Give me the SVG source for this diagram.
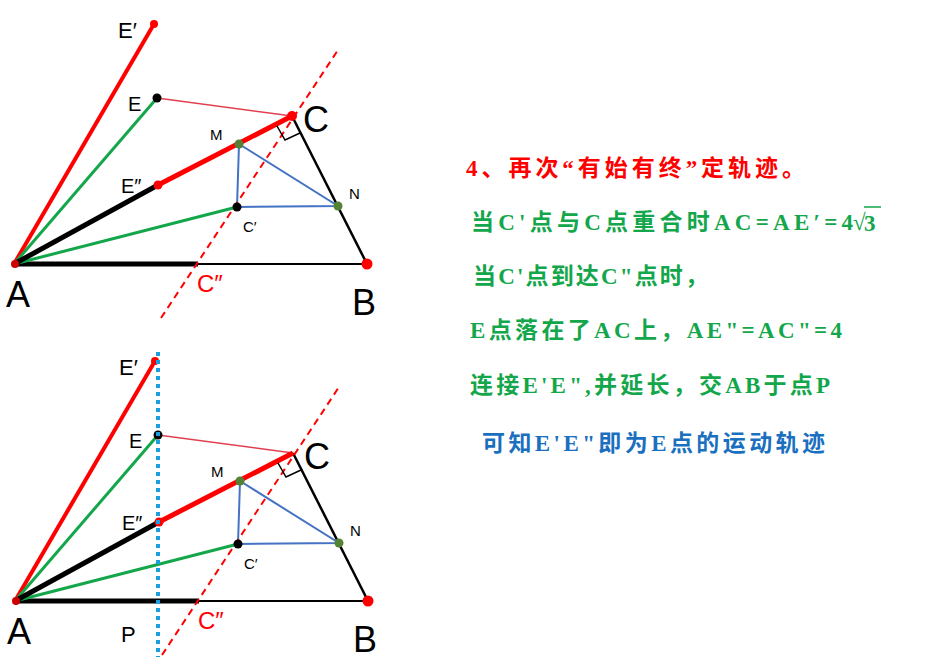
<svg xmlns="http://www.w3.org/2000/svg" width="952" height="665" viewBox="0 0 952 665">
<style>
.lbl{font-family:"Liberation Sans",Arial,sans-serif;fill:#000}
.t{font-family:"Liberation Serif","Noto Sans CJK SC",serif;font-size:23px;font-weight:bold}
.g{fill:#13a64a}
</style>
<defs>
<g id="fig">
<line x1="14" y1="264" x2="367" y2="264" stroke="#000" stroke-width="2"/>
<line x1="14" y1="264" x2="198" y2="264" stroke="#000" stroke-width="5"/>
<line x1="292" y1="116" x2="367" y2="264" stroke="#000" stroke-width="2.5"/>
<line x1="157" y1="98" x2="292" y2="116" stroke="#e04050" stroke-width="1.5"/>
<line x1="14" y1="264" x2="154" y2="24" stroke="#f00" stroke-width="4"/>
<line x1="14" y1="264" x2="157" y2="98" stroke="#13a64a" stroke-width="3"/>
<line x1="14" y1="264" x2="237" y2="207" stroke="#13a64a" stroke-width="3"/>
<line x1="14" y1="264" x2="158" y2="185" stroke="#000" stroke-width="5"/>
<line x1="158" y1="185" x2="292" y2="116" stroke="#f00" stroke-width="5"/>
<polyline points="239,144 237,207 338,206 239,144" fill="none" stroke="#4472c4" stroke-width="2"/>
<line x1="161" y1="318" x2="338" y2="50" stroke="#f00" stroke-width="2" stroke-dasharray="7,5"/>
<polyline points="277,126 285,140 300,133" fill="none" stroke="#000" stroke-width="1.5"/>
<circle cx="154" cy="24" r="4" fill="#f00"/>
<circle cx="157" cy="98" r="4.5" fill="#000"/>
<circle cx="158" cy="185" r="4.5" fill="#f00"/>
<circle cx="239" cy="144" r="4.5" fill="#548235"/>
<circle cx="338" cy="206" r="4.5" fill="#548235"/>
<circle cx="237" cy="207" r="4.5" fill="#000"/>
<circle cx="367" cy="264" r="5.5" fill="#f00"/>
<circle cx="15" cy="264" r="4" fill="#c00"/>
<text class="lbl" x="118" y="38" font-size="22">E′</text>
<text class="lbl" x="128" y="111" font-size="20">E</text>
<text class="lbl" x="121" y="193" font-size="20">E″</text>
<text class="lbl" x="210" y="140" font-size="15">M</text>
<text class="lbl" x="349" y="199" font-size="15">N</text>
<text class="lbl" x="243" y="232" font-size="15">C′</text>
<text class="lbl" x="303" y="132" font-size="36">C</text>
<text class="lbl" x="6" y="307" font-size="36">A</text>
<text class="lbl" x="352" y="315" font-size="36">B</text>
<text x="197" y="292" font-size="24" font-family="Liberation Sans,sans-serif" fill="#f00">C″</text>
</g>
</defs>
<g id="top"><use href="#fig"/><circle cx="292" cy="116" r="5" fill="#f00"/></g>
<g id="bottom" transform="translate(1,337)">
<use href="#fig"/>
<line x1="157" y1="15" x2="157" y2="320" stroke="#1aa0e0" stroke-width="4" stroke-dasharray="4,4"/>
<text class="lbl" x="120" y="305" font-size="22">P</text>
</g>
<g id="text">
<text class="t" x="466" y="176" fill="#f00" textLength="339">4、再次“有始有终”定轨迹。</text>
<text class="t g" x="471" y="230" textLength="382">当C'点与C点重合时AC=AE′=4</text>
<text class="t g" x="853" y="230" font-family="Liberation Sans,sans-serif" font-weight="normal" font-size="24">√</text>
<text class="t g" x="864" y="231" font-family="Liberation Sans,sans-serif" font-weight="normal" font-size="26">3</text>
<line x1="864" y1="207" x2="881" y2="207" stroke="#13a64a" stroke-width="1.5"/>
<text class="t g" x="473" y="284" textLength="235">当C'点到达C"点时，</text>
<text class="t g" x="470" y="338" textLength="372">E点落在了AC上，AE"=AC"=4</text>
<text class="t g" x="470" y="393" textLength="360">连接E'E",并延长，交AB于点P</text>
<text class="t" x="482" y="451" fill="#1a6fbf" textLength="343">可知E'E"即为E点的运动轨迹</text>
</g>
</svg>
